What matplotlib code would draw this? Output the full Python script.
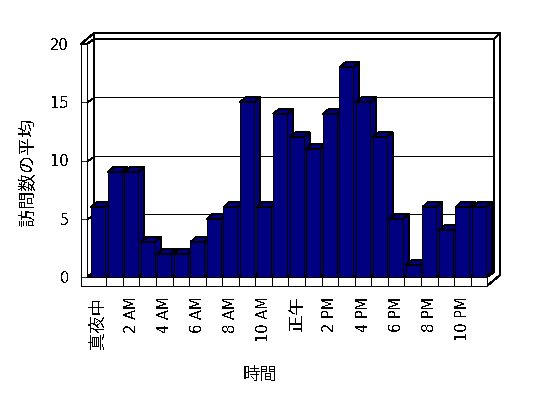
import numpy as np
import matplotlib
matplotlib.use('Agg')
import matplotlib.pyplot as plt
from matplotlib.patches import Polygon

plt.rcParams['font.family'] = ['DejaVu Sans', 'Noto Sans CJK JP']
plt.rcParams['patch.antialiased'] = False
plt.rcParams['lines.antialiased'] = False
plt.rcParams['text.antialiased'] = False

hours = list(range(24))
visits = [6, 9, 9, 3, 2, 2, 3, 5, 6, 15, 6, 14, 12, 11, 14, 18, 15, 12, 5, 1, 6, 4, 6, 6]
tick_hours = [0, 2, 4, 6, 8, 10, 12, 14, 16, 18, 20, 22]
tick_labels = ['真夜中', '2 AM', '4 AM', '6 AM', '8 AM', '10 AM',
               '正午', '2 PM', '4 PM', '6 PM', '8 PM', '10 PM']
y_ticks = [0, 5, 10, 15, 20]

bar_color = '#000080'
lw = 0.72

fig = plt.figure(figsize=(5.48, 3.98), dpi=100)
ax = fig.add_axes([87/548, 121/398, 400/548, 233/398])
x0, x1 = -0.66, 23.48
top = 20
ax.set_xlim(x0, x1)
ax.set_ylim(0, top)

# size of one pixel in data units
px = (x1 - x0) / 400
py = top / 233
dx, dy = 7*px, 5*py      # depth of the plot box
tx, ty = 6*px, 6*py      # back wall thickness
bdx, bdy = 6*px, 5*py    # depth of the bars
wall = 6*px              # left wall thickness
floor = 9*py             # floor thickness
bw = 14*px               # bar width

def poly(pts, z=1, fc='white'):
    ax.add_patch(Polygon(pts, closed=True, facecolor=fc, edgecolor='black',
                         lw=lw, zorder=z, clip_on=False))

xl = x0 - wall
# back wall front face
poly([(x0+dx, dy), (x1+dx, dy), (x1+dx, top+dy), (x0+dx, top+dy)])
# back wall top + left wall top
poly([(x0+dx, top+dy), (x1+dx, top+dy), (x1+dx+tx, top+dy+ty), (xl+dx+tx, top+dy+ty)])
poly([(xl, top), (x0, top), (x0+dx, top+dy), (xl+dx+tx, top+dy+ty)])
# left wall inner face
poly([(x0, 0), (x0+dx, dy), (x0+dx, top+dy), (x0, top)])
# floor top
poly([(x0, 0), (x1, 0), (x1+dx, dy), (x0+dx, dy)])
# right faces (floor + back wall)
poly([(x1, -floor), (x1+dx+tx, -floor+dy+ty), (x1+dx+tx, top+dy+ty),
      (x1+dx, top+dy), (x1+dx, dy), (x1, 0)])
# front L (left wall + floor)
poly([(xl, -floor), (x1, -floor), (x1, 0), (x0, 0), (x0, top), (xl, top)])

# gridlines on the walls
for v in y_ticks[1:-1]:
    ax.plot([x0, x0+dx, x1+dx], [v, v+dy, v+dy], color='black', lw=0.6,
            zorder=1.5, clip_on=False, snap=True)

# category separators on floor front
ax.vlines(np.array(hours[:-1]) + 0.5, -floor, 0, color='black', lw=0.6,
          zorder=1.5, clip_on=False)

# bar sides and tops, left to right
for h, v in zip(hours, visits):
    l, r = h - bw/2, h + bw/2
    poly([(r, 0), (r+bdx, bdy), (r+bdx, v+bdy), (r, v)], z=2, fc=bar_color)
    poly([(l, v), (r, v), (r+bdx, v+bdy), (l+bdx, v+bdy)], z=2, fc=bar_color)
ax.bar(hours, visits, width=bw, color=bar_color, edgecolor='black', lw=lw,
       zorder=3, clip_on=False)

for s in ax.spines.values():
    s.set_visible(False)
ax.set_yticks(y_ticks)
ax.set_yticklabels([str(t) for t in y_ticks], fontsize=10.5)
ax.tick_params(axis='y', length=6*0.72, width=0.6, pad=8.6, direction='out')
ax.set_xticks(tick_hours)
ax.set_xticklabels(tick_labels, rotation=90)
ax.tick_params(axis='x', length=0, pad=14)
for lab in ax.get_xticklabels():
    if lab.get_text().endswith('M'):
        lab.set_fontsize(10.5)
    else:
        lab.set_fontsize(12.5)

ax.set_ylabel('訪問数の平均', fontsize=13, va='center')
ax.yaxis.set_label_coords(-0.1475, 0.45)
ax.set_xlabel('時間', fontsize=12.5)
ax.xaxis.set_label_coords(0.4325, -0.42)
ax.xaxis.label.set_va('center')

fig.savefig('out.png', dpi=100)
